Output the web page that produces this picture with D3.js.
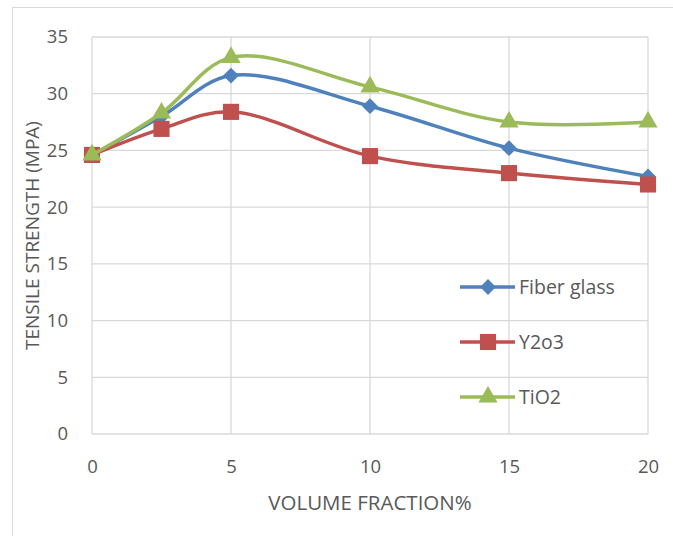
<!DOCTYPE html>
<html>
<head>
<script src="https://d3js.org/d3.v7.min.js"></script>
<style>
  body { margin: 0; background: #fff; }
  svg { display: block; }
  text { font-family: "Open Sans", "Noto Sans", sans-serif; fill: #595959; }
</style>
</head>
<body>
<svg id="chart" width="673" height="536"></svg>
<script>
// data
const fractions = [0, 2.5, 5, 10, 15, 20];
const fiberGlass = [24.6, 28.0, 31.6, 28.9, 25.2, 22.7];
const y2o3 = [24.6, 26.9, 28.4, 24.5, 23.0, 22.0];
const tio2 = [24.6, 28.3, 33.2, 30.6, 27.5, 27.5];
const xTicks = [0, 5, 10, 15, 20];
const yTicks = [0, 5, 10, 15, 20, 25, 30, 35];

const series = [
  { name: 'Fiber glass', values: fiberGlass, color: '#4F81BD', symbol: d3.symbolDiamond2, size: 160 },
  { name: 'Y2o3', values: y2o3, color: '#C0504D', symbol: d3.symbolSquare, size: 260 },
  { name: 'TiO2', values: tio2, color: '#9BBB59', symbol: d3.symbolTriangle, size: 160 }
];

const svg = d3.select('#chart');
const margin = { left: 92, right: 25, top: 37, bottom: 102 };
const width = 673, height = 536;

// outer chart border
svg.append('rect')
  .attr('x', 12.5).attr('y', 7.5)
  .attr('width', 700).attr('height', 600)
  .attr('fill', 'none').attr('stroke', '#d9d9d9');

const x = d3.scaleLinear().domain([0, 20]).range([margin.left, width - margin.right]);
const y = d3.scaleLinear().domain([0, 35]).range([height - margin.bottom, margin.top]);

// gridlines
svg.append('g').selectAll('line').data(yTicks).join('line')
  .attr('x1', x(0)).attr('x2', x(20))
  .attr('y1', d => y(d)).attr('y2', d => y(d))
  .attr('stroke', '#d9d9d9').attr('stroke-width', 1.3);
svg.append('g').selectAll('line').data(xTicks).join('line')
  .attr('y1', y(0)).attr('y2', y(35))
  .attr('x1', d => x(d)).attr('x2', d => x(d))
  .attr('stroke', '#d9d9d9').attr('stroke-width', 1.3);

// axes
const yAxis = svg.append('g')
  .attr('transform', `translate(${x(0) - 24},0)`)
  .call(d3.axisLeft(y).tickValues(yTicks).tickSize(0).tickPadding(0));
const xAxis = svg.append('g')
  .attr('transform', `translate(0,${y(0) + 18})`)
  .call(d3.axisBottom(x).tickValues(xTicks).tickSize(0).tickPadding(8));
[xAxis, yAxis].forEach(a => {
  a.select('.domain').remove();
  a.selectAll('text').style('font-size', '18.5px').attr('fill', '#595959')
    .style('font-family', '"Open Sans", sans-serif');
});

svg.append('text')
  .attr('x', x(10)).attr('y', 510)
  .attr('text-anchor', 'middle')
  .style('font-size', '20.5px')
  .text('VOLUME FRACTION%');
svg.append('text')
  .attr('transform', `translate(39,${(y(0) + y(35)) / 2}) rotate(-90)`)
  .attr('text-anchor', 'middle')
  .style('font-size', '19px')
  .text('TENSILE STRENGTH (MPA)');

// lines
const line = d3.line()
  .x((d, i) => x(fractions[i]))
  .y(d => y(d))
  .curve(d3.curveCatmullRom.alpha(0.5));

series.forEach(s => {
  svg.append('path')
    .attr('d', line(s.values))
    .attr('fill', 'none')
    .attr('stroke', s.color)
    .attr('stroke-width', 3.5)
    .attr('stroke-linejoin', 'round');
  svg.append('g').selectAll('path').data(s.values).join('path')
    .attr('transform', (d, i) => `translate(${x(fractions[i])},${y(d)})`)
    .attr('d', d3.symbol(s.symbol, s.size))
    .attr('fill', s.color);
});

// legend
const legend = svg.append('g');
series.forEach((s, i) => {
  const ly = 287 + i * 55;
  legend.append('line')
    .attr('x1', 460).attr('x2', 515).attr('y1', ly).attr('y2', ly)
    .attr('stroke', s.color).attr('stroke-width', 3.5);
  legend.append('path')
    .attr('transform', `translate(488,${ly})`)
    .attr('d', d3.symbol(s.symbol, s.size))
    .attr('fill', s.color);
  legend.append('text')
    .attr('x', 519).attr('y', ly).attr('dy', '0.35em')
    .style('font-size', '19.5px')
    .text(s.name);
});
</script>
</body>
</html>
